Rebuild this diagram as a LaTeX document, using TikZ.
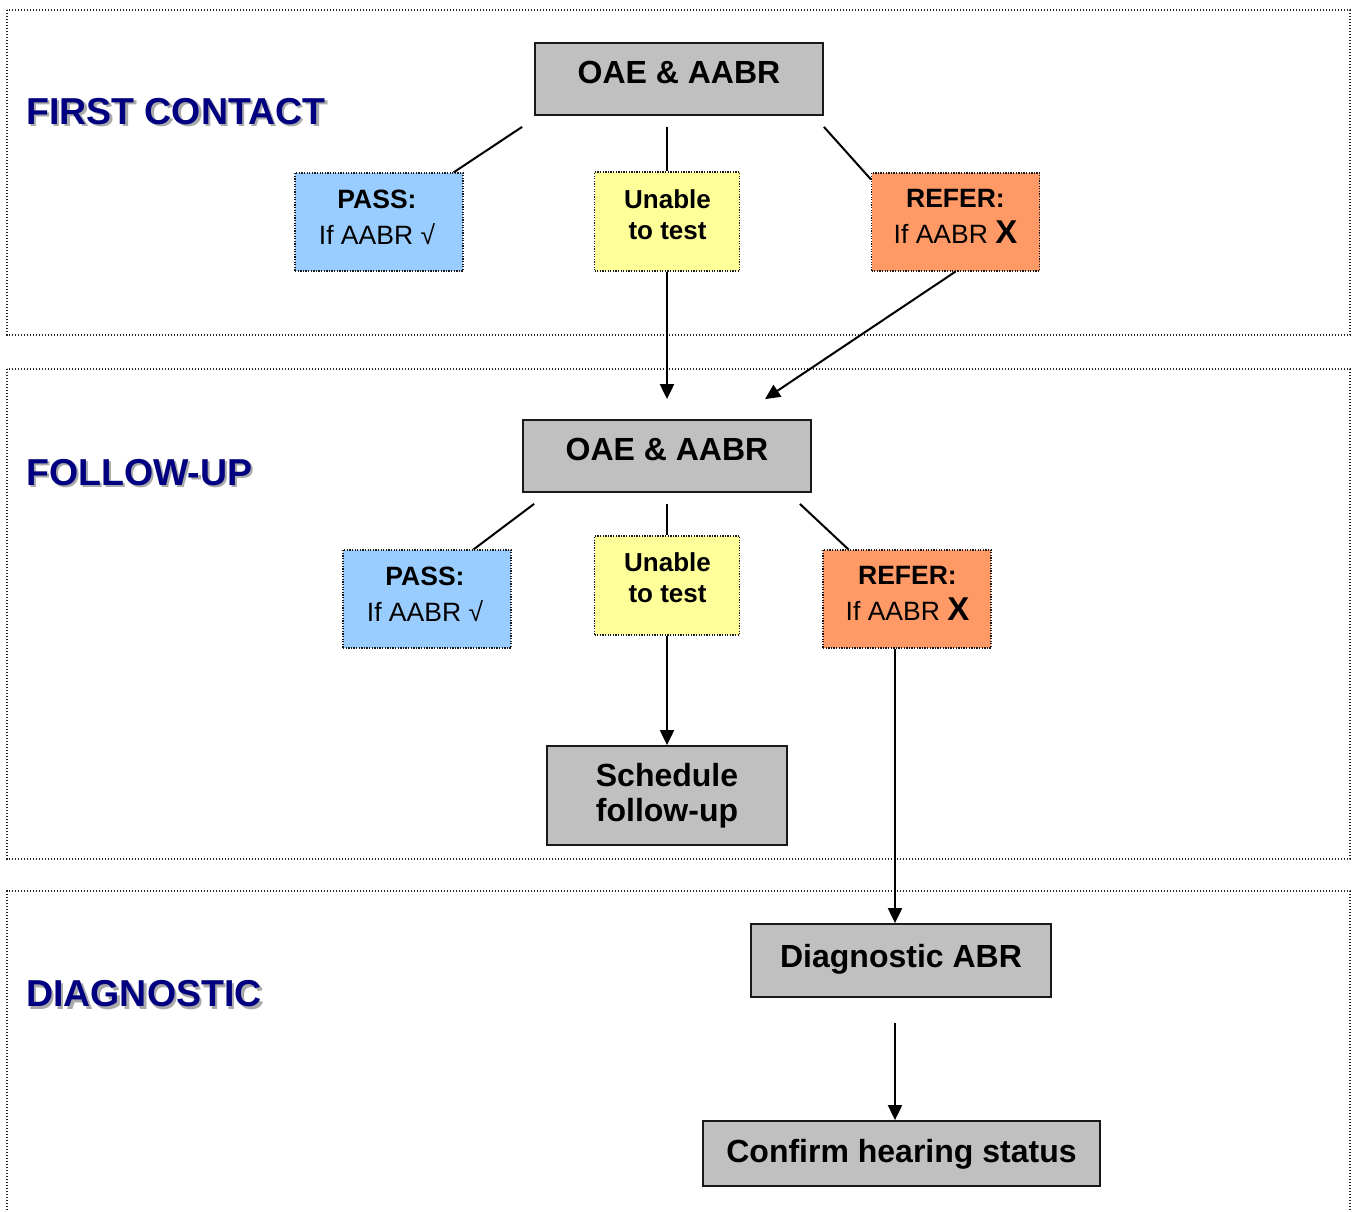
\documentclass[tikz,border=0pt]{standalone}
\usepackage{fontspec}
\setmainfont{Liberation Sans}
\usetikzlibrary{arrows.meta,calc}

\definecolor{navy}{RGB}{0,0,128}
\definecolor{titleshadow}{RGB}{170,170,170}
\definecolor{boxgray}{RGB}{192,192,192}
\definecolor{passblue}{RGB}{153,204,255}
\definecolor{unableyellow}{RGB}{255,255,153}
\definecolor{referorange}{RGB}{255,153,102}

\newcommand{\bigfont}{\fontsize{32}{35}\selectfont\bfseries}
\newcommand{\smallfont}{\fontsize{26.5}{36}\selectfont}
\newcommand{\unablefont}{\fontsize{26}{31}\selectfont\bfseries}
\newcommand{\titlefont}{\fontsize{37.5}{40}\selectfont\bfseries}

\tikzset{
  stage/.style={draw=black!85, line width=1.2pt, dash pattern=on 1.4pt off 1.6pt},
  graybox/.style={draw=black!90, fill=boxgray, line width=1.8pt, inner sep=0pt},
  resultbox/.style={draw=black!90, line width=1.2pt, dash pattern=on 1.3pt off 1.3pt, inner sep=0pt,
    minimum width=168pt, minimum height=98pt},
  unablebox/.style={resultbox, fill=unableyellow, minimum width=145pt, minimum height=99pt},
  passbox/.style={resultbox, fill=passblue},
  referbox/.style={resultbox, fill=referorange},
  boxtext/.style={anchor=north, inner sep=0pt, align=center},
  title/.style={anchor=base west, inner sep=0pt, text=navy, font=\titlefont},
  titleshade/.style={anchor=base west, inner sep=0pt, text=titleshadow, font=\titlefont},
  link/.style={line width=2pt},
  flow/.style={link, -{Triangle[length=15pt,width=14pt]}}
}

\begin{document}
\begin{tikzpicture}[x=1pt,y=-1pt]
\useasboundingbox (0,0) rectangle (1353,1212);

% stage frames
\draw[stage] (7,10) rectangle (1350,335);
\draw[stage] (7,369) rectangle (1350,859);
\draw[stage] (7,1240) -- (7,891) -- (1350,891) -- (1350,1240);

% stage titles with drop shadow
\node[titleshade] (t1s) at (28.5,127) {FIRST CONTACT};
\node[title] (t1) at (26,124.5) {FIRST CONTACT};
\node[titleshade] (t2s) at (28.5,487.5) {FOLLOW-UP};
\node[title] (t2) at (26,485) {FOLLOW-UP};
\node[titleshade] (t3s) at (28.5,1009) {DIAGNOSTIC};
\node[title] (t3) at (26,1006.5) {DIAGNOSTIC};

% first contact
\node[graybox, minimum width=288pt, minimum height=72pt] (oae1) at (679,79) {};
\node[boxtext, font=\bigfont] (oae1t) at (679,61) {OAE \& AABR};
\node[passbox] (pass1) at (379,222) {};
\node[boxtext, font=\smallfont] (pass1t) at (377,190) {\textbf{PASS:}\\If AABR √};
\node[unablebox] (unable1) at (667,221.5) {};
\node[boxtext, font=\unablefont] (unable1t) at (667.5,189) {Unable\\to test};
\node[referbox] (refer1) at (955.5,222) {};
\node[boxtext, font=\smallfont] (refer1t) at (955.5,189.5) {\textbf{REFER:}\\If AABR {\fontsize{33}{36}\selectfont\bfseries X}};

% follow-up
\node[graybox, minimum width=288pt, minimum height=72pt] (oae2) at (667,456) {};
\node[boxtext, font=\bigfont] (oae2t) at (667,438) {OAE \& AABR};
\node[passbox] (pass2) at (427,599) {};
\node[boxtext, font=\smallfont] (pass2t) at (425,567) {\textbf{PASS:}\\If AABR √};
\node[unablebox] (unable2) at (667,585.5) {};
\node[boxtext, font=\unablefont] (unable2t) at (667.5,552) {Unable\\to test};
\node[referbox] (refer2) at (907,599) {};
\node[boxtext, font=\smallfont] (refer2t) at (907.5,566.5) {\textbf{REFER:}\\If AABR {\fontsize{33}{36}\selectfont\bfseries X}};
\node[graybox, minimum width=240pt, minimum height=99pt] (sched) at (667,795.5) {};
\node[boxtext, font=\bigfont] (schedt) at (667,763.5) {Schedule\\follow-up};

% diagnostic
\node[graybox, minimum width=300pt, minimum height=73pt] (diag) at (901,960.5) {};
\node[boxtext, font=\bigfont] (diagt) at (901,944) {Diagnostic ABR};
\node[graybox, minimum width=397pt, minimum height=65pt] (confirm) at (901.5,1153.5) {};
\node[boxtext, font=\bigfont] (confirmt) at (901.5,1139.5) {Confirm hearing status};

% connectors: first contact
\draw[link] ($(oae1.south west)+(-12,11)$) -- ($(pass1.north east)+(-10,0)$);
\draw[link] ($(oae1.south)+(-12,11)$) -- (unable1.north);
\draw[link] ($(oae1.south east)+(0,11)$) -- ($(refer1.north west)+(0,7)$);
\draw[flow] (unable1.south) -- ($(oae2.north)+(0,-20)$);
\draw[flow] (refer1.south) -- ($(oae2.north)+(98,-20)$);

% connectors: follow-up
\draw[link] ($(oae2.south west)+(12,11)$) -- ($(pass2.north east)+(-38,0)$);
\draw[link] ($(oae2.south)+(0,11)$) -- (unable2.north);
\draw[link] ($(oae2.south east)+(-12,11)$) -- ($(refer2.north west)+(26,0)$);
\draw[flow] (unable2.south) -- (sched.north);
\coordinate (r2out) at ($(refer2.south)+(-12,0)$);
\draw[flow] (r2out) -- (r2out |- diag.north);

% connectors: diagnostic
\coordinate (dout) at ($(diag.south)+(-6,25)$);
\draw[flow] (dout) -- (dout |- confirm.north);
\end{tikzpicture}
\end{document}
